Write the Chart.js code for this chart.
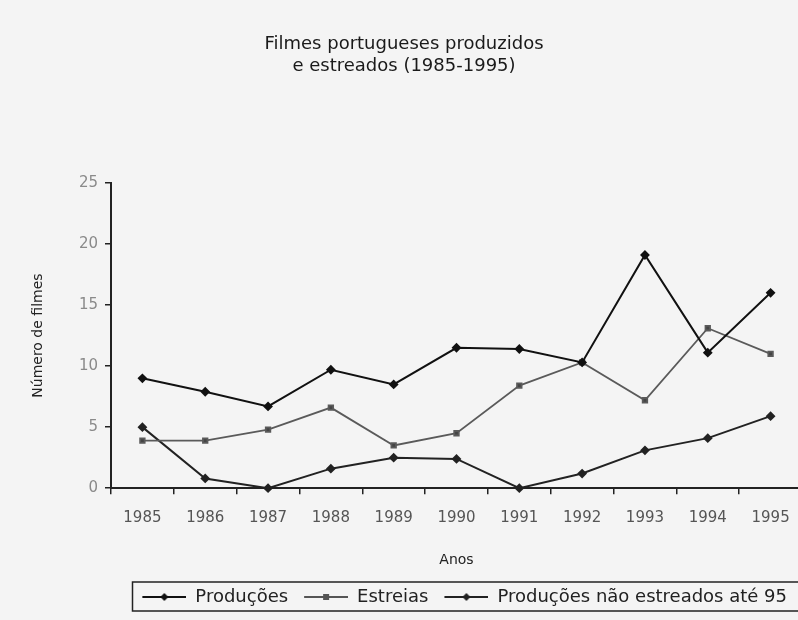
<!DOCTYPE html>
<html>
<head>
<meta charset="utf-8">
<script src="https://cdn.jsdelivr.net/npm/chart.js@4.4.0/dist/chart.umd.min.js"></script>
<style>
  html, body { margin: 0; padding: 0; background: #f4f4f4; overflow: hidden; }
  canvas { display: block; }
</style>
</head>
<body>
<canvas id="grafico" width="808" height="620"></canvas>
<script>
const anos = ['1985', '1986', '1987', '1988', '1989', '1990', '1991', '1992', '1993', '1994', '1995'];
const producoes = [9.0, 7.9, 6.7, 9.7, 8.5, 11.5, 11.4, 10.3, 19.1, 11.1, 16.0];
const estreias = [3.9, 3.9, 4.8, 6.6, 3.5, 4.5, 8.4, 10.3, 7.2, 13.1, 11.0];
const naoEstreadas = [5.0, 0.8, 0, 1.6, 2.5, 2.4, 0, 1.2, 3.1, 4.1, 5.9];
const ticksY = [0, 5, 10, 15, 20, 25];

const fonte = 'DejaVu Sans';

// marcador da legenda: linha com o símbolo ao meio
function marcador(cor, forma, largura) {
  const c = document.createElement('canvas');
  c.width = 56; c.height = 12;
  const g = c.getContext('2d');
  g.strokeStyle = cor; g.fillStyle = cor; g.lineWidth = largura;
  g.beginPath(); g.moveTo(12, 6); g.lineTo(56, 6); g.stroke();
  g.beginPath();
  if (forma === 'rect') g.rect(31, 3, 6, 6);
  else { g.moveTo(34, 2); g.lineTo(38, 6); g.lineTo(34, 10); g.lineTo(30, 6); g.closePath(); }
  g.fill();
  return c;
}
const marcadores = [
  marcador('#111', 'rectRot', 2),
  marcador('#555', 'rect', 2),
  marcador('#222', 'rectRot', 2)
];

const caixaLegenda = {
  id: 'caixaLegenda',
  afterLayout(chart) { chart.legend.right = 791; },
  afterDraw(chart) {
    const l = chart.legend, ctx = chart.ctx;
    ctx.save();
    ctx.strokeStyle = '#222';
    ctx.lineWidth = 1.5;
    ctx.strokeRect(132.5, l.top - 2, 720, 29);
    ctx.restore();
  }
};

new Chart(document.getElementById('grafico'), {
  type: 'line',
  data: {
    labels: anos,
    datasets: [
      { label: 'Produções', data: producoes, borderColor: '#111', backgroundColor: '#111',
        borderWidth: 2, pointStyle: 'rectRot', pointRadius: 3.5, clip: false },
      { label: 'Estreias', data: estreias, borderColor: '#5a5a5a', backgroundColor: '#444',
        borderWidth: 1.8, pointStyle: 'rect', pointRadius: 3.2, clip: false },
      { label: 'Produções não estreados até 95', data: naoEstreadas, borderColor: '#222', backgroundColor: '#222',
        borderWidth: 2, pointStyle: 'rectRot', pointRadius: 3.5, clip: false }
    ]
  },
  options: {
    responsive: false,
    animation: false,
    layout: { padding: { bottom: 4 } },
    plugins: {
      title: {
        display: true,
        text: ['Filmes portugueses produzidos', 'e estreados (1985-1995)'],
        font: { family: fonte, size: 18, weight: 'normal', lineHeight: 1.22 },
        color: '#1a1a1a',
        padding: { top: 33, bottom: 106 }
      },
      legend: {
        position: 'bottom',
        align: 'end',
        labels: {
          usePointStyle: true,
          pointStyleWidth: 56,
          padding: 4,
          color: '#222',
          font: { family: fonte, size: 18 },
          generateLabels: chart => Chart.defaults.plugins.legend.labels.generateLabels(chart)
            .map((it, i) => ({ ...it, pointStyle: marcadores[i] }))
        }
      },
      tooltip: { enabled: false }
    },
    scales: {
      x: {
        offset: true,
        grid: { drawOnChartArea: false, drawTicks: true, tickLength: 6, tickColor: '#222', lineWidth: 1.5, offset: true },
        border: { display: true, color: '#222', width: 2 },
        ticks: { color: '#555', padding: 15, font: { family: fonte, size: 15 } },
        title: { display: true, text: 'Anos', color: '#222', font: { family: fonte, size: 14 }, padding: { top: 10, bottom: 15 } }
      },
      y: {
        min: 0,
        max: 25,
        afterBuildTicks: s => { s.ticks = ticksY.map(v => ({ value: v })); },
        afterFit: s => { s.width = 111; },
        grid: { drawOnChartArea: false, drawTicks: true, tickLength: 6, tickColor: '#222', lineWidth: 1.5 },
        border: { display: true, color: '#222', width: 2 },
        ticks: { color: '#8a8a8a', padding: 7, font: { family: fonte, size: 15 } },
        title: { display: true, text: 'Número de filmes', color: '#222', font: { family: fonte, size: 14 }, padding: { top: 30, bottom: 0 } }
      }
    }
  },
  plugins: [caixaLegenda]
});
</script>
</body>
</html>
